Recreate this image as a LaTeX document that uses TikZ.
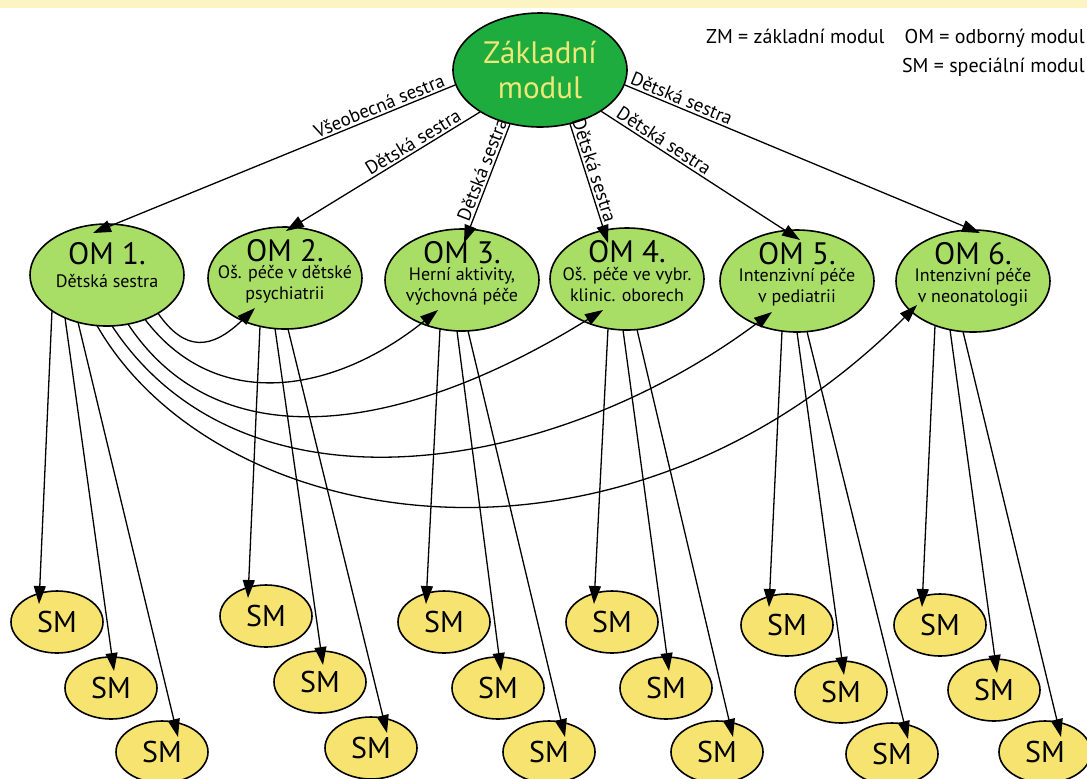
\documentclass[tikz,border=0pt]{standalone}
\usepackage{fontspec}
\setmainfont{PT Sans}
\usepackage{tikz}
\usetikzlibrary{
    arrows.meta,
    positioning,
    calc,
    shapes.geometric
}
\tikzset{
  zmod/.style    = {ellipse, draw, line width=0.8pt, fill=ZakGreen,
                    minimum width=87pt, minimum height=57pt, inner sep=0pt,
                    align=center, text=ZakText,
                    font=\fontsize{15.5}{17.5}\selectfont},
  omod/.style    = {ellipse, draw, line width=0.8pt, fill=OdbGreen,
                    minimum width=77pt, minimum height=51pt, inner sep=0pt},
  smod/.style    = {ellipse, draw, line width=0.8pt, fill=SpecYellow,
                    minimum width=46pt, minimum height=31pt, inner sep=0pt,
                    font=\fontsize{15}{15}\selectfont},
  omtitle/.style = {inner sep=0pt, font=\fontsize{15.5}{17}\selectfont},
  omtext/.style  = {inner sep=0pt, align=center,
                    font=\fontsize{9}{10.5}\selectfont},
  elabel/.style  = {sloped, above, inner sep=1pt,
                    font=\fontsize{9.5}{10}\selectfont},
  legend/.style  = {anchor=east, inner sep=0pt,
                    font=\fontsize{10}{12}\selectfont},
  arr/.style     = {-{Triangle[length=9pt,width=6pt]}, line width=0.65pt}
}
\definecolor{ZakGreen}{RGB}{31,172,62}
\definecolor{ZakText}{RGB}{240,232,118}
\definecolor{OdbGreen}{RGB}{168,222,102}
\definecolor{SpecYellow}{RGB}{246,227,112}
\definecolor{TopBand}{RGB}{253,244,196}

\begin{document}
\begin{tikzpicture}[x=0.5pt,y=-0.5pt]
\useasboundingbox (0,0) rectangle (1087,778);
\clip (0,0) rectangle (1087,778);
\fill[TopBand] (0,0) rectangle (1087,8);

\node[zmod] (zm) at (540,70) {Základní\\modul};

\foreach \n/\x/\y in {1/107/275,2/285/278,3/462/280,4/627/279,5/797/281,6/973/281}
  \node[omod] (om\n) at (\x,\y) {};
\foreach \n/\dy in {1/-21,2/-27,3/-27,4/-27,5/-27,6/-27}
  \node[omtitle] (tit\n) at ($(om\n)+(0,\dy)$) {OM \n.};
\node[omtext] (sub1) at ($(om1)+(0,6)$) {Dětská sestra};
\node[omtext] (sub2) at ($(om2)+(0,6)$) {Oš. péče v dětské\\psychiatrii};
\node[omtext] (sub3) at ($(om3)+(0,6)$) {Herní aktivity,\\výchovná péče};
\node[omtext] (sub4) at ($(om4)+(0,6)$) {Oš. péče ve vybr.\\klinic. oborech};
\node[omtext] (sub5) at ($(om5)+(0,6)$) {Intenzivní péče\\v pediatrii};
\node[omtext] (sub6) at ($(om6)+(0,6)$) {Intenzivní péče\\v neonatologii};

\foreach \g/\x/\ya/\yb/\yc in {1/57/622/688/752,2/266/616/682/748,3/444/622/688/752,
                               4/612/622/688/752,5/787/625/692/754,6/940/625/690/752}{
  \node[smod] (sm\g-a) at (\x,\ya) {SM};
  \node[smod] (sm\g-b) at ({\x+54},\yb) {SM};
  \node[smod] (sm\g-c) at ({\x+105},\yc) {SM};
}

\foreach \a/\n/\dx/\dy/\p/\txt in {
    190/1/-14/-42/0.2/{Všeobecná sestra},
    215/2/1/-47/0.32/{Dětská sestra},
    241/3/2/-37/0.41/{Dětská sestra},
    299/4/-19/-36/0.41/{Dětská sestra},
    326/5/3/-41/0.29/{Dětská sestra},
    350/6/7/-48/0.15/{Dětská sestra}}
  \draw[arr] (zm.\a) -- ($(om\n)+(\dx,\dy)$) node[elabel,pos=\p] {\txt};

\foreach \g/\sa/\sb/\sc in {1/-55/-42/-29,2/-25/-10/3,3/-22/-5/6,
                            4/-19/-4/10,5/-15/0/10,6/-38/-23/-10}{
  \draw[arr] ($(om\g)+(\sa,{51*sqrt(1-(\sa/77)^2)})$) -- ($(sm\g-a)+(-18,-18)$);
  \draw[arr] ($(om\g)+(\sb,{51*sqrt(1-(\sb/77)^2)})$) -- ($(sm\g-b)+(3,-17)$);
  \draw[arr] ($(om\g)+(\sc,{51*sqrt(1-(\sc/77)^2)})$) -- ($(sm\g-c)+(16,-15)$);
}

\foreach \n/\sx/\ax/\ay/\bx/\by/\dx/\dy in {
    2/51/185/352/211/350/-30/30,
    3/38/217/414/335/393/-24/30,
    4/21/223/467/413/428/-24/31,
    5/5/244/526/554/475/-25/31,
    6/-10/216/533/618/604/-56/24}
  \draw[arr] ($(om1)+(\sx,{51*sqrt(1-(\sx/77)^2)})$)
    .. controls (\ax,\ay) and (\bx,\by) .. ($(om\n)+(\dx,\dy)$);

\node[legend] (leg1) at (1085,38) {ZM = základní modul\quad OM = odborný modul};
\node[legend] (leg2) at (1085,67) {SM = speciální modul};
\end{tikzpicture}
\end{document}
